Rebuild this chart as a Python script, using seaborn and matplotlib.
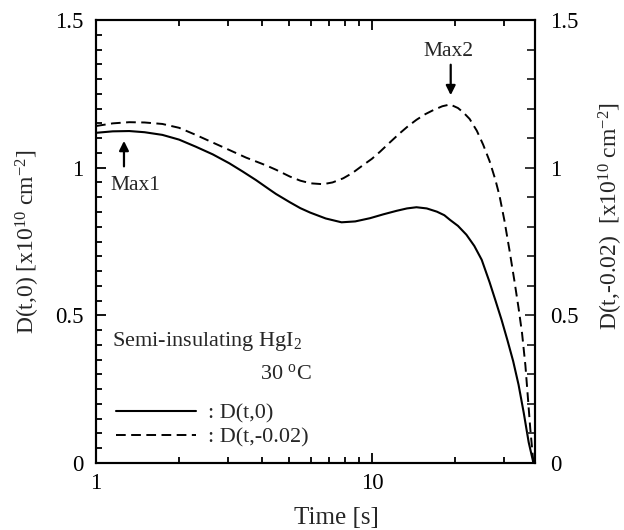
import numpy as np
import pandas as pd
import matplotlib
matplotlib.use("Agg")
import matplotlib.pyplot as plt
from matplotlib.ticker import NullFormatter, FixedLocator
import seaborn as sns

# ---- data ----
t_solid = [1.0, 1.15, 1.32, 1.5, 1.74, 2.0, 2.3, 2.65, 3.04, 3.4, 3.8, 4.27, 4.49, 5.04,
           5.5, 5.97, 6.8, 7.76, 8.7, 9.85, 11.0, 12.3, 13.4, 14.5, 15.8, 17.2, 18.3,
           19.2, 20.5, 22.0, 23.5, 25.0, 26.7, 28.0, 29.5, 31.0, 32.5, 34.0, 35.5, 37.0, 38.5]
d_solid = [1.118, 1.123, 1.124, 1.120, 1.111, 1.095, 1.071, 1.045, 1.015, 0.987, 0.958,
           0.925, 0.911, 0.883, 0.863, 0.848, 0.828, 0.815, 0.818, 0.829, 0.842, 0.854,
           0.862, 0.866, 0.862, 0.851, 0.839, 0.823, 0.803, 0.773, 0.735, 0.688, 0.612,
           0.552, 0.485, 0.415, 0.345, 0.265, 0.170, 0.070, 0.0]

t_dash = [1.0, 1.15, 1.32, 1.5, 1.74, 2.0, 2.3, 2.65, 3.04, 3.5, 4.0, 4.27, 4.49, 5.04,
          5.5, 6.0, 6.65, 7.2, 7.87, 8.5, 9.3, 10.0, 10.7, 11.6, 12.6, 13.5, 14.5, 15.6,
          16.7, 18.0, 19.2, 20.5, 21.5, 22.6, 24.0, 25.3, 26.7, 28.0, 29.0, 30.2, 31.5,
          32.8, 34.0, 35.0, 36.0, 36.8, 37.5, 38.5]
d_dash = [1.141, 1.150, 1.154, 1.153, 1.148, 1.135, 1.111, 1.085, 1.060, 1.034, 1.013,
          1.002, 0.993, 0.970, 0.956, 0.947, 0.944, 0.950, 0.964, 0.982, 1.009, 1.030,
          1.054, 1.085, 1.116, 1.140, 1.162, 1.181, 1.195, 1.208, 1.214, 1.202, 1.186,
          1.165, 1.125, 1.078, 1.022, 0.960, 0.905, 0.822, 0.722, 0.620, 0.525, 0.440,
          0.330, 0.215, 0.115, 0.0]

series_labels = [": D(t,0)", ": D(t,-0.02)"]
x_major = [1, 10]
x_major_labels = ["1", "10"]
x_minor = [2, 3, 4, 5, 6, 7, 8, 9, 20, 30]
y_major = [0, 0.5, 1, 1.5]
y_major_labels = ["0", "0.5", "1", "1.5"]

# ---- style ----
sns.set_theme(style="ticks")
plt.rcParams["font.family"] = ["Liberation Serif", "DejaVu Serif"]
plt.rcParams["mathtext.fontset"] = "custom"
plt.rcParams["mathtext.rm"] = "Liberation Serif"
plt.rcParams["mathtext.it"] = "Liberation Serif:italic"
plt.rcParams["axes.linewidth"] = 1.5

fig = plt.figure(figsize=(6.24, 5.30), dpi=100)
ax = fig.add_axes([96 / 624, 67 / 530, 439 / 624, 443 / 530])

df_s = pd.DataFrame({"t": t_solid, "D": d_solid})
df_d = pd.DataFrame({"t": t_dash, "D": d_dash})
sns.lineplot(data=df_s, x="t", y="D", ax=ax, color="black", lw=1.5,
             label=series_labels[0], estimator=None, sort=False,
             solid_joinstyle="round")
sns.lineplot(data=df_d, x="t", y="D", ax=ax, color="black", lw=1.4,
             linestyle=(0, (5, 2.8)), label=series_labels[1], estimator=None, sort=False)

ax.set_xscale("log")
ax.set_xlim(1, 39)
ax.set_ylim(0, 1.5)
ax.xaxis.set_major_locator(FixedLocator(x_major))
ax.set_xticklabels(x_major_labels)
ax.xaxis.set_minor_locator(FixedLocator(x_minor))
ax.xaxis.set_minor_formatter(NullFormatter())
ax.set_yticks(y_major)
ax.set_yticklabels(y_major_labels)
ax.set_yticks(np.arange(0, 1.5001, 0.05), minor=True)

ax.tick_params(axis="both", which="both", direction="in", color="black", width=1.3,
               labelsize=16.5, labelcolor="black")
ax.tick_params(axis="x", which="both", top=True, bottom=True, pad=7)
ax.tick_params(axis="y", which="both", left=True, right=False, pad=9)
ax.tick_params(which="major", length=7)
ax.tick_params(which="minor", length=4)

ax.set_xlabel("Time [s]", fontsize=18)
ax.xaxis.set_label_coords(0.547, -0.1)
ax.set_ylabel(r"D(t,0) [x10$\mathregular{^{10}}$ cm$\mathregular{^{-2}}$]", fontsize=17)
ax.yaxis.set_label_coords(-0.123, 0.5)

ax2 = ax.twinx()
ax2.set_ylim(0, 1.5)
ax2.set_yticks(y_major)
ax2.set_yticklabels(y_major_labels)
ax2.set_yticks(np.arange(0, 1.5001, 0.1), minor=True)
ax2.tick_params(axis="y", which="both", direction="in", width=1.3, labelsize=16.5,
                labelcolor="black", pad=11, right=True, left=False)
ax2.tick_params(which="major", length=7)
ax2.tick_params(which="minor", length=5.5)
ax2.set_ylabel(r"D(t,-0.02)  [x10$\mathregular{^{10}}$ cm$\mathregular{^{-2}}$]", fontsize=17)
ax2.yaxis.set_label_coords(1.141, 0.558)
for a in (ax, ax2):
    for s in a.spines.values():
        s.set_linewidth(1.5)
        s.set_color("black")

# annotations
ax.annotate("", xy=(1.263, 1.10), xytext=(1.263, 0.995),
            arrowprops=dict(arrowstyle="-|>", color="black", lw=1.6, mutation_scale=14))
ax.text(1.124, 0.938, "Max1", fontsize=15.5, ha="left", va="center")
ax.annotate("", xy=(19.3, 1.236), xytext=(19.3, 1.358),
            arrowprops=dict(arrowstyle="-|>", color="black", lw=1.6, mutation_scale=14))
ax.text(19.0, 1.392, "Max2", fontsize=15.5, ha="center", va="center")

ax.text(1.143, 0.41, r"Semi-insulating HgI$\mathregular{_2}$", fontsize=16, ha="left", va="center")
ax.text(3.93, 0.30, r"30 $\mathregular{^{o}}$C", fontsize=16, ha="left", va="center")

leg = ax.legend(loc="center left", bbox_to_anchor=(0.045, 0.085), frameon=False,
                fontsize=16, handlelength=3.6, handletextpad=0.55, labelspacing=0.15,
                borderpad=0, borderaxespad=0)

fig.savefig("out.png", dpi=100)
